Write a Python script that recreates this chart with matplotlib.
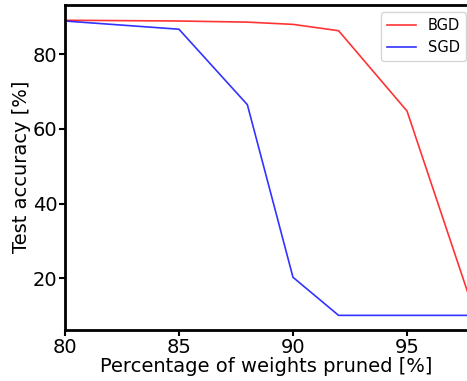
import matplotlib
matplotlib.use("Agg")
import matplotlib.pyplot as plt

pruned = [80, 85, 88, 90, 92, 95, 98]
bgd_acc = [89.1, 88.9, 88.6, 88.0, 86.3, 64.8, 10.1]
sgd_acc = [88.9, 86.7, 66.5, 20.3, 10.1, 10.1, 10.1]

fig = plt.figure(figsize=(4.67, 3.81), dpi=100)
ax = fig.add_axes([0.139, 0.134, 0.861, 0.854])

ax.plot(pruned, bgd_acc, color='r', alpha=0.8, lw=1.2, label='BGD')
ax.plot(pruned, sgd_acc, color='b', alpha=0.8, lw=1.2, label='SGD')

ax.set_xlim(80, 97.63)
ax.set_ylim(6.2, 93.3)
ax.set_xticks([80, 85, 90, 95])
ax.set_yticks([20, 40, 60, 80])
ax.tick_params(labelsize=14, width=1.5, length=4, pad=1.5)
ax.set_xlabel('Percentage of weights pruned [%]', fontsize=14, labelpad=0)
ax.set_ylabel('Test accuracy [%]', fontsize=14, labelpad=1)
ax.spines['right'].set_visible(False)
for s in ['left', 'bottom', 'top']:
    ax.spines[s].set_linewidth(2)

ax.legend(loc='upper right', fontsize=10.5, borderaxespad=0,
          bbox_to_anchor=(466 / 467, 1 - 12 / 381), bbox_transform=fig.transFigure)

fig.savefig('out.png', dpi=100)
